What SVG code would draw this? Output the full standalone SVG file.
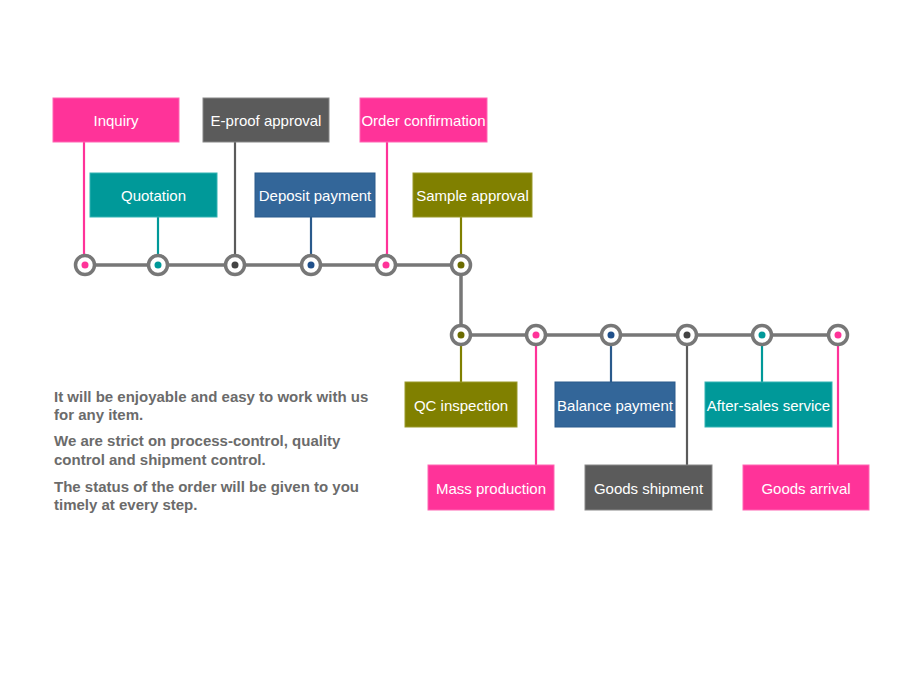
<svg xmlns="http://www.w3.org/2000/svg" width="900" height="675" viewBox="0 0 900 675">
<style>
.box{stroke-width:1}
.pink{fill:#FF3399;stroke:#ff66b3}
.teal{fill:#009999;stroke:#33b3b3}
.grey{fill:#5B5B5B;stroke:#888}
.blue{fill:#336699;stroke:#2a5a8c}
.olive{fill:#808000;stroke:#99992a}
.lbl{font-family:"Liberation Sans",Arial,sans-serif;font-size:15px;fill:#fff;text-anchor:middle;dominant-baseline:central}
.ring{fill:#fff;stroke:#777;stroke-width:3.5}
.main{stroke:#777;stroke-width:3.5;fill:none}
.c{stroke-width:2.2;fill:none}
.note{font-family:"Liberation Sans",Arial,sans-serif;font-size:15px;font-weight:bold;fill:#6b6b6b}
</style>
<rect width="900" height="675" fill="#fff"/>
<g id="connectors">
<path class="main" d="M85 265H461V335H838"/>
<line class="c" stroke="#FF3399" x1="84" y1="142" x2="84" y2="265"/>
<line class="c" stroke="#009999" x1="158" y1="217" x2="158" y2="265"/>
<line class="c" stroke="#5B5B5B" x1="235" y1="142" x2="235" y2="265"/>
<line class="c" stroke="#2a5a8c" x1="311" y1="217" x2="311" y2="265"/>
<line class="c" stroke="#FF3399" x1="387" y1="142" x2="387" y2="265"/>
<line class="c" stroke="#808000" x1="461" y1="217" x2="461" y2="265"/>
<line class="c" stroke="#808000" x1="461" y1="335" x2="461" y2="382"/>
<line class="c" stroke="#FF3399" x1="536" y1="335" x2="536" y2="465"/>
<line class="c" stroke="#2a5a8c" x1="611" y1="335" x2="611" y2="382"/>
<line class="c" stroke="#5B5B5B" x1="687" y1="335" x2="687" y2="465"/>
<line class="c" stroke="#009999" x1="762" y1="335" x2="762" y2="382"/>
<line class="c" stroke="#FF3399" x1="838" y1="335" x2="838" y2="465"/>
<circle class="ring" cx="85" cy="265" r="9.5"/><circle cx="85" cy="265" r="3.5" fill="#FF3399"/>
<circle class="ring" cx="158" cy="265" r="9.5"/><circle cx="158" cy="265" r="3.5" fill="#009999"/>
<circle class="ring" cx="235" cy="265" r="9.5"/><circle cx="235" cy="265" r="3.5" fill="#444"/>
<circle class="ring" cx="311" cy="265" r="9.5"/><circle cx="311" cy="265" r="3.5" fill="#1f4f8a"/>
<circle class="ring" cx="386" cy="265" r="9.5"/><circle cx="386" cy="265" r="3.5" fill="#FF3399"/>
<circle class="ring" cx="461" cy="265" r="9.5"/><circle cx="461" cy="265" r="3.5" fill="#6b6b00"/>
<circle class="ring" cx="461" cy="335" r="9.5"/><circle cx="461" cy="335" r="3.5" fill="#6b6b00"/>
<circle class="ring" cx="536" cy="335" r="9.5"/><circle cx="536" cy="335" r="3.5" fill="#FF3399"/>
<circle class="ring" cx="611" cy="335" r="9.5"/><circle cx="611" cy="335" r="3.5" fill="#1f4f8a"/>
<circle class="ring" cx="687" cy="335" r="9.5"/><circle cx="687" cy="335" r="3.5" fill="#444"/>
<circle class="ring" cx="762" cy="335" r="9.5"/><circle cx="762" cy="335" r="3.5" fill="#009999"/>
<circle class="ring" cx="838" cy="335" r="9.5"/><circle cx="838" cy="335" r="3.5" fill="#FF3399"/>
</g>
<g id="inquiry"><rect class="box pink" x="53" y="98" width="126" height="44"/><text class="lbl" x="116" y="120">Inquiry</text></g>
<g id="quotation"><rect class="box teal" x="90" y="173" width="127" height="44"/><text class="lbl" x="153.5" y="195">Quotation</text></g>
<g id="eproof"><rect class="box grey" x="203" y="98" width="126" height="44"/><text class="lbl" x="266" y="120">E-proof approval</text></g>
<g id="deposit"><rect class="box blue" x="255" y="173" width="120" height="44"/><text class="lbl" x="315" y="195">Deposit payment</text></g>
<g id="order"><rect class="box pink" x="360" y="98" width="127" height="44"/><text class="lbl" x="423.5" y="120">Order confirmation</text></g>
<g id="sample"><rect class="box olive" x="413" y="173" width="119" height="44"/><text class="lbl" x="472.5" y="195">Sample approval</text></g>
<g id="qc"><rect class="box olive" x="405" y="382" width="112" height="45"/><text class="lbl" x="461" y="405">QC inspection</text></g>
<g id="mass"><rect class="box pink" x="428" y="465" width="126" height="45"/><text class="lbl" x="491" y="488">Mass production</text></g>
<g id="balance"><rect class="box blue" x="555" y="382" width="120" height="45"/><text class="lbl" x="615" y="405">Balance payment</text></g>
<g id="shipment"><rect class="box grey" x="585" y="465" width="127" height="45"/><text class="lbl" x="648.5" y="488">Goods shipment</text></g>
<g id="aftersales"><rect class="box teal" x="705" y="382" width="127" height="45"/><text class="lbl" x="768.5" y="405">After-sales service</text></g>
<g id="arrival"><rect class="box pink" x="743" y="465" width="126" height="45"/><text class="lbl" x="806" y="488">Goods arrival</text></g>
<g id="notes">
<text class="note" x="54" y="402">It will be enjoyable and easy to work with us</text>
<text class="note" x="54" y="420">for any item.</text>
<text class="note" x="54" y="446">We are strict on process-control, quality</text>
<text class="note" x="54" y="465">control and shipment control.</text>
<text class="note" x="54" y="492">The status of the order will be given to you</text>
<text class="note" x="54" y="510">timely at every step.</text>
</g>
</svg>
